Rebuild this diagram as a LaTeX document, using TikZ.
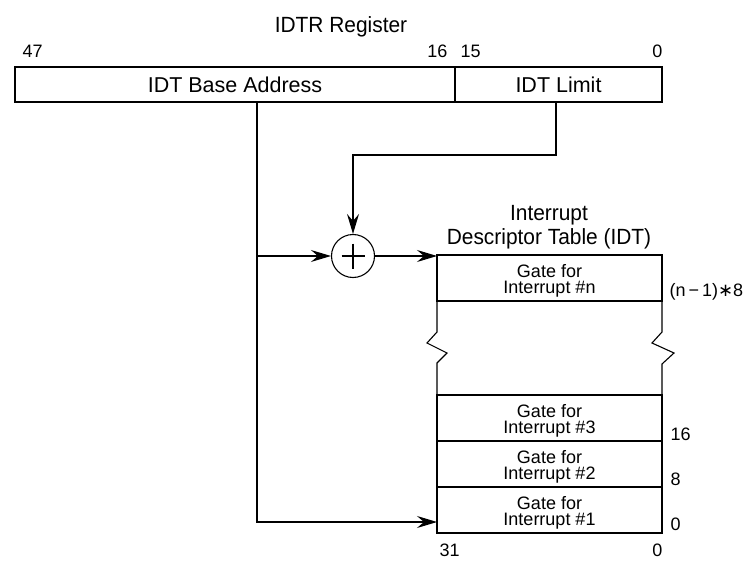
\documentclass[tikz,border=0pt]{standalone}
\usepackage{fontspec}
\setmainfont{Liberation Sans}
\newfontfamily\narrowfont[FakeStretch=0.95]{Liberation Sans}
\newfontfamily\symfont{DejaVu Sans}
\usetikzlibrary{arrows.meta}
\begin{document}
\begin{tikzpicture}[x=1pt,y=-1pt,
  line width=1.1pt,
  ttltxt/.style={font=\narrowfont\fontsize{22}{24}\selectfont},
  fldtxt/.style={font=\fontsize{21.5}{22}\selectfont},
  numtxt/.style={font=\fontsize{18}{18}\selectfont},
  gtxt/.style={font=\fontsize{18}{16.5}\selectfont, align=center, inner sep=0pt},
  field/.style={draw, rectangle, inner sep=0pt, fldtxt},
  gate/.style={draw, rectangle, inner sep=0pt, outer sep=0pt, minimum width=225pt, minimum height=46pt},
  lbl/.style={inner sep=0pt, numtxt},
  arr/.style={-{Stealth[length=20pt,width=12pt,inset=7pt]}}
]
\useasboundingbox (0,0) rectangle (752,572);
% register
\node[ttltxt, inner sep=0pt, anchor=base] (title) at (341,33) {IDTR Register};
\node[lbl, anchor=base west] (b47) at (22,58) {47};
\node[lbl, anchor=base east] (b16) at (448,58) {16};
\node[lbl, anchor=base west] (b15) at (460,58) {15};
\node[lbl, anchor=base east] (b0) at (663,58) {0};
\node[field, minimum width=440pt, minimum height=35pt] (base) at (235,84.5) {IDT Base Address};
\node[field, minimum width=207pt, minimum height=35pt] (lim) at (558.5,84.5) {IDT Limit};
% adder
\node[draw, circle, minimum size=43pt, inner sep=0pt] (add) at (353,256) {};
\draw[line width=2.6pt] (add.center) ++(-11.5,0) -- ++(23,0);
\draw[line width=2.6pt] (add.center) ++(0,-12.5) -- ++(0,25);
% table
\node[ttltxt, align=center, anchor=base, inner sep=0pt] (ttl) at (549,244) {Interrupt\\Descriptor Table (IDT)};
\node[gate] (gn) at (549.5,278) {};
\node[gate] (g3) at (549.5,418) {};
\node[gate] (g2) at (549.5,464) {};
\node[gate] (g1) at (549.5,510) {};
\node[gtxt] (gnt) at ([yshift=-3pt]gn.center) {Gate for\\Interrupt \#n};
\node[gtxt] (g3t) at ([yshift=-3pt]g3.center) {Gate for\\Interrupt \#3};
\node[gtxt] (g2t) at ([yshift=-3pt]g2.center) {Gate for\\Interrupt \#2};
\node[gtxt] (g1t) at ([yshift=-3pt]g1.center) {Gate for\\Interrupt \#1};
\draw (gn.south west) -- (437,332) -- (427,343) -- (447,353) -- (437,363) -- (g3.north west);
\draw (gn.south east) -- (662,332) -- (652,343) -- (674,353) -- (662,364) -- (g3.north east);
% offsets
\node[lbl, anchor=base west] (on) at (669,296) {(n\,−\,1){\symfont ∗}8};
\node[lbl, anchor=base west] (o16) at (670,440) {16};
\node[lbl, anchor=base west] (o8) at (670,485) {8};
\node[lbl, anchor=base west] (o0) at (670,530) {0};
\node[lbl, anchor=base west] (c31) at (439,556) {31};
\node[lbl, anchor=base east] (c0) at (663,556) {0};
% connectors
\coordinate (bx) at (257,0);
\coordinate (lx) at (556,0);
\coordinate (e1) at (437,522);
\draw[arr] (base.south -| bx) |- (e1);
\draw[arr] (bx |- add.west) -- (add.west);
\draw[arr] (add.east) -- (add.east -| gn.west);
\draw[arr] (lim.south -| lx) -- (556,155) -| (add.north);
\end{tikzpicture}
\end{document}
